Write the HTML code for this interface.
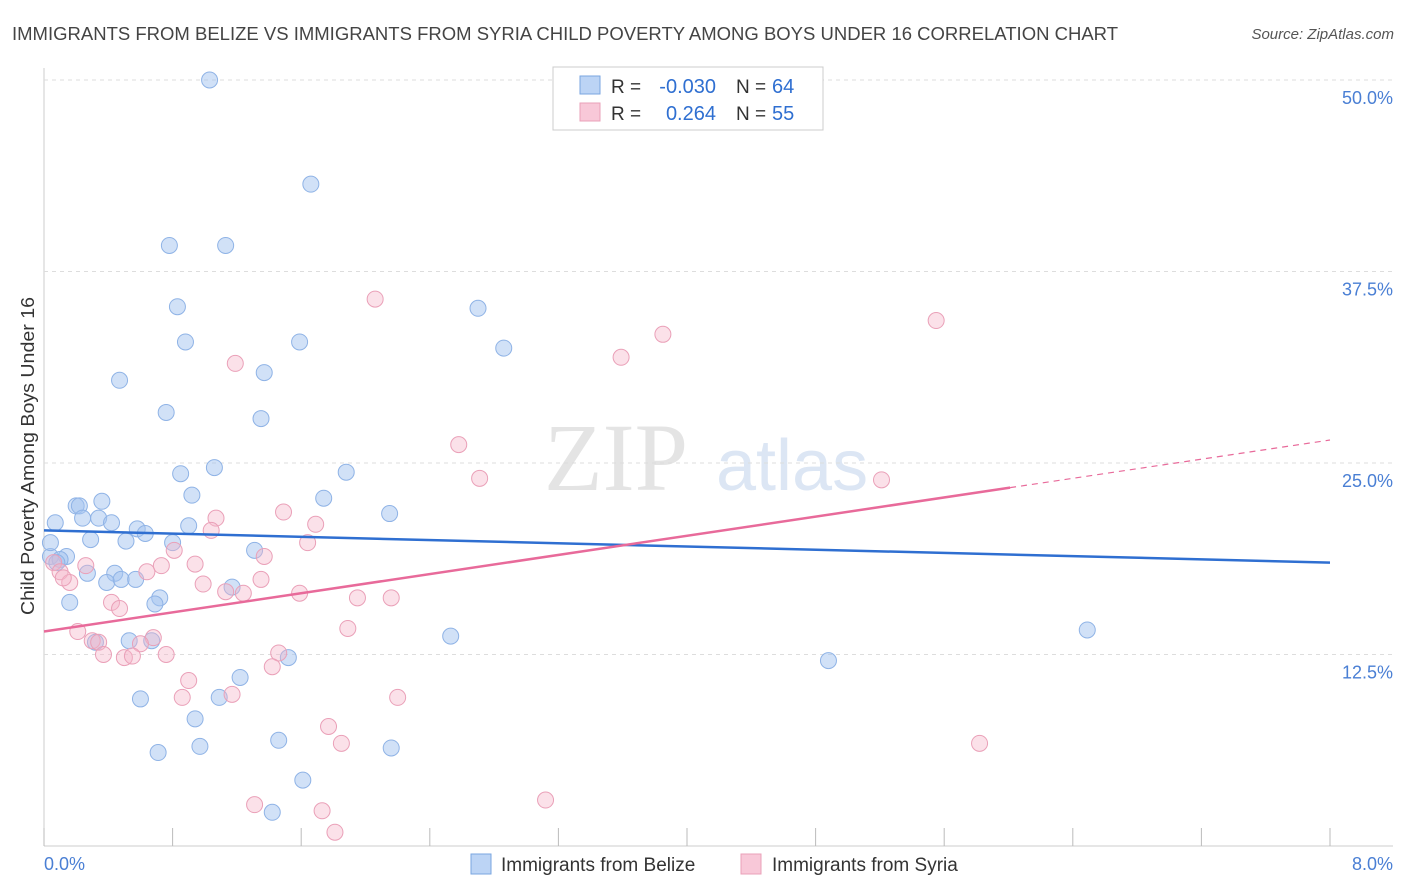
<!DOCTYPE html>
<html><head><meta charset="utf-8">
<style>
body{margin:0;background:#fff;font-family:"Liberation Sans",sans-serif;}
svg{display:block}
</style></head>
<body>
<svg id="chart" width="1406" height="892">
<text x="12" y="40" font-size="18" fill="#444" textLength="1106" lengthAdjust="spacingAndGlyphs">IMMIGRANTS FROM BELIZE VS IMMIGRANTS FROM SYRIA CHILD POVERTY AMONG BOYS UNDER 16 CORRELATION CHART</text>
<text x="1394" y="39" font-size="15" fill="#555" font-style="italic" text-anchor="end">Source: ZipAtlas.com</text>
<text x="688" y="490" font-size="96" fill="#e4e4e4" text-anchor="end" font-family="Liberation Serif">ZIP</text>
<text x="716" y="490" font-size="72" fill="#dce6f4">atlas</text>
<text transform="translate(34,456) rotate(-90)" font-size="18" fill="#333" text-anchor="middle" textLength="318" lengthAdjust="spacingAndGlyphs">Child Poverty Among Boys Under 16</text>
<text x="44" y="870" font-size="18" fill="#4a7fd4">0.0%</text>
<text x="1393" y="870" font-size="18" fill="#4a7fd4" text-anchor="end">8.0%</text>
<g id="grid"></g><g id="marks"></g><g id="lines"></g>
<g>
<rect x="553" y="67" width="270" height="63" fill="#fff" stroke="#ccc"/>
<rect x="580" y="76" width="20" height="18" fill="#bcd4f5" stroke="#7aa6e0"/>
<rect x="580" y="103" width="20" height="18" fill="#f8c8d8" stroke="#eaa0b8"/>
<text x="611" y="93" font-size="19" fill="#333">R =</text>
<text x="716" y="93" font-size="20" fill="#2f6fd1" text-anchor="end">-0.030</text>
<text x="736" y="93" font-size="19" fill="#333">N =</text>
<text x="772" y="93" font-size="20" fill="#2f6fd1">64</text>
<text x="611" y="120" font-size="19" fill="#333">R =</text>
<text x="716" y="120" font-size="20" fill="#2f6fd1" text-anchor="end">0.264</text>
<text x="736" y="120" font-size="19" fill="#333">N =</text>
<text x="772" y="120" font-size="20" fill="#2f6fd1">55</text>
</g>
<g>
<rect x="471" y="854" width="20" height="20" fill="#bcd4f5" stroke="#7aa6e0"/>
<text x="501" y="871" font-size="19" fill="#333">Immigrants from Belize</text>
<rect x="741" y="854" width="20" height="20" fill="#f8c8d8" stroke="#eaa0b8"/>
<text x="772" y="871" font-size="19" fill="#333">Immigrants from Syria</text>
</g>
</svg>
<script>
const yTicks=[12.5,25.0,37.5,50.0];
const xTicks=[0,0.8,1.6,2.4,3.2,4.0,4.8,5.6,6.4,7.2,8.0];
const belizeX=[1.03,1.66,0.78,1.13,0.83,2.70,0.88,1.59,2.86,0.47,1.37,0.76,1.35,0.85,1.06,1.88,0.92,1.74,2.15,0.20,0.22,0.36,0.24,0.34,0.42,0.07,0.90,0.58,0.63,0.29,0.51,0.80,1.31,0.04,0.14,0.10,0.27,0.44,0.39,0.48,0.57,1.17,0.72,0.69,0.16,0.53,0.67,0.32,2.53,1.52,6.49,4.88,1.22,0.60,1.09,0.94,0.97,0.71,1.46,2.16,1.61,1.42,0.04,0.08];
const belizeY=[50.0,43.2,39.2,39.2,35.2,35.1,32.9,32.9,32.5,30.4,30.9,28.3,27.9,24.3,24.7,24.4,22.9,22.7,21.7,22.2,22.2,22.5,21.4,21.4,21.1,21.1,20.9,20.7,20.4,20.0,19.9,19.8,19.3,18.9,18.9,18.7,17.8,17.8,17.2,17.4,17.4,16.9,16.2,15.8,15.9,13.4,13.4,13.3,13.7,12.3,14.1,12.1,11.0,9.6,9.7,8.3,6.5,6.1,6.9,6.4,4.3,2.2,19.8,18.5];
const syriaX=[2.06,3.85,5.55,3.59,1.19,2.58,2.71,5.21,1.07,1.49,1.69,1.04,1.64,0.81,1.37,0.94,0.64,0.73,0.06,0.10,0.26,0.16,0.12,1.35,0.99,1.13,1.24,1.59,1.95,2.16,0.42,0.47,1.89,0.21,0.30,0.34,0.68,0.60,0.76,0.37,0.50,0.55,1.46,1.42,0.90,0.86,1.17,2.20,1.77,1.85,5.82,1.31,1.73,3.12,1.81];
const syriaY=[35.7,33.4,34.3,31.9,31.5,26.2,24.0,23.9,21.4,21.8,21.0,20.6,19.8,19.3,18.9,18.4,17.9,18.3,18.5,17.9,18.3,17.2,17.5,17.4,17.1,16.6,16.5,16.5,16.2,16.2,15.9,15.5,14.2,14.0,13.4,13.3,13.6,13.2,12.5,12.5,12.3,12.4,12.6,11.7,10.8,9.7,9.9,9.7,7.8,6.7,6.7,2.7,2.3,3.0,0.9];
const belizeTrend=[20.6,18.5];
const syriaTrend=[14.0,26.5];
const syriaSolidEnd=6.01;

const NS="http://www.w3.org/2000/svg";
const X0=44,X1=1330,Y0=846,YPX=15.32;
function sx(v){return X0+(X1-X0)*v/8;}
function sy(v){return Y0-v*YPX;}
function mk(t,a,p){const e=document.createElementNS(NS,t);for(const k in a)e.setAttribute(k,a[k]);p.appendChild(e);return e;}
const grid=document.getElementById('grid'),marks=document.getElementById('marks'),lines=document.getElementById('lines');
mk('line',{x1:X0,y1:68,x2:X0,y2:846,stroke:'#ccc'},grid);
mk('line',{x1:X0,y1:846,x2:1393,y2:846,stroke:'#ccc'},grid);
yTicks.forEach(v=>{
 const l=mk('line',{x1:X0,y1:sy(v),x2:1393,y2:sy(v),stroke:'#ddd','stroke-dasharray':'4,4'},grid);
 
 
 const t=mk('text',{x:1393,y:sy(v)+24,'font-size':18,fill:'#4a7fd4','text-anchor':'end'},grid);
 t.textContent=v.toFixed(1)+'%';
 
 
});
xTicks.forEach(v=>{
 const l=mk('line',{x1:sx(v),y1:828,x2:sx(v),y2:846,stroke:'#bbb'},grid);
 
 
});
function pts(xs,ys,fill,stroke,name){
 xs.forEach((x,i)=>{
  const c=mk('circle',{cx:sx(x),cy:sy(ys[i]),r:8,fill:fill,stroke:stroke,'stroke-width':1},marks);
  
  
 });
}
pts(belizeX,belizeY,'rgba(164,196,240,0.5)','#8fb3e6','belize-point');
pts(syriaX,syriaY,'rgba(244,180,200,0.4)','#eaa0b8','syria-point');
let l=mk('line',{x1:sx(0),y1:sy(belizeTrend[0]),x2:sx(8),y2:sy(belizeTrend[1]),stroke:'#2f6fd1','stroke-width':2.5},lines);


const ps=v=>syriaTrend[0]+(syriaTrend[1]-syriaTrend[0])*v/8;
l=mk('line',{x1:sx(0),y1:sy(ps(0)),x2:sx(syriaSolidEnd),y2:sy(ps(syriaSolidEnd)),stroke:'#e86a9a','stroke-width':2.5},lines);


l=mk('line',{x1:sx(syriaSolidEnd),y1:sy(ps(syriaSolidEnd)),x2:sx(8),y2:sy(ps(8)),stroke:'#e86a9a','stroke-width':1.2,'stroke-dasharray':'6,5'},lines);


</script>
</body></html>
